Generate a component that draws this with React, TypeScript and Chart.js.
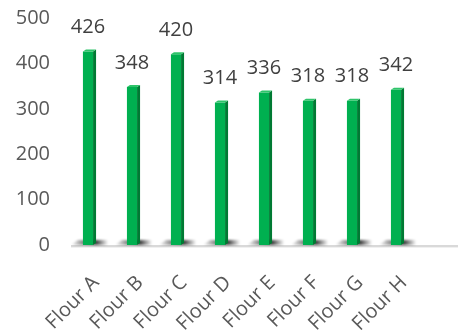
import React, { useEffect, useRef } from "react";
import { Chart, registerables } from "chart.js";

Chart.register(...registerables);

const categories = ["Flour A", "Flour B", "Flour C", "Flour D", "Flour E", "Flour F", "Flour G", "Flour H"];
const values = [426, 348, 420, 314, 336, 318, 318, 342];
const yMin = 0;
const yMax = 500;
const yStep = 100;

const FONT = "'Open Sans', 'Noto Sans', sans-serif";
const DEPTH_X = 3;
const DEPTH_Y = 2;

const bar3d = {
  id: "bar3d",
  beforeDatasetsDraw(chart: any) {
    const { ctx, chartArea } = chart;
    const base = chart.scales.y.getPixelForValue(0);
    ctx.save();
    // floor line
    ctx.fillStyle = "#d9d9d9";
    ctx.fillRect(chartArea.left + 5, base, chart.width - chartArea.left - 5, 2);
    ctx.fillStyle = "rgba(0,0,0,0.06)";
    ctx.fillRect(chartArea.left + 5, base + 2, chart.width - chartArea.left - 5, 1);
    // floor shadows
    const meta = chart.getDatasetMeta(0);
    meta.data.forEach((el: any) => {
      const { x, width } = el.getProps(["x", "width"], true);
      const l = x - width / 2 - 12;
      const r = x + width / 2 + 15;
      const g = ctx.createLinearGradient(l, 0, r, 0);
      const bl = (x - width / 2 - l) / (r - l);
      const br = (x + width / 2 + DEPTH_X - l) / (r - l);
      g.addColorStop(0, "rgba(0,0,0,0)");
      g.addColorStop(bl, "rgba(0,0,0,0.45)");
      g.addColorStop(br, "rgba(0,0,0,0.75)");
      g.addColorStop(1, "rgba(0,0,0,0)");
      ctx.filter = "blur(1px)";
      ctx.fillStyle = g;
      ctx.beginPath();
      ctx.moveTo(l, base);
      ctx.lineTo(r, base);
      ctx.lineTo(r + 3, base - 5);
      ctx.lineTo(l + 7, base - 5);
      ctx.closePath();
      ctx.fill();
    });
    ctx.restore();
  },
  afterDatasetsDraw(chart: any) {
    const { ctx } = chart;
    const meta = chart.getDatasetMeta(0);
    ctx.save();
    meta.data.forEach((el: any, i: number) => {
      const { x, y, base, width } = el.getProps(["x", "y", "base", "width"], true);
      const r = x + width / 2;
      const l = x - width / 2;
      // side face
      ctx.fillStyle = "#007a33";
      ctx.beginPath();
      ctx.moveTo(r, y);
      ctx.lineTo(r + DEPTH_X, y - DEPTH_Y);
      ctx.lineTo(r + DEPTH_X, base - DEPTH_Y);
      ctx.lineTo(r, base);
      ctx.closePath();
      ctx.fill();
      // top face
      ctx.fillStyle = "#2fc46a";
      ctx.beginPath();
      ctx.moveTo(l, y);
      ctx.lineTo(r, y);
      ctx.lineTo(r + DEPTH_X, y - DEPTH_Y);
      ctx.lineTo(l + DEPTH_X, y - DEPTH_Y);
      ctx.closePath();
      ctx.fill();
      // value label
      ctx.fillStyle = "#404040";
      ctx.font = `20px ${FONT}`;
      ctx.textAlign = "center";
      ctx.textBaseline = "bottom";
      ctx.fillText(String(values[i]), x, y - 14);
    });
    ctx.restore();
  },
};

export default function App() {
  const ref = useRef<HTMLCanvasElement | null>(null);
  useEffect(() => {
    document.body.style.margin = "0";
    if (!ref.current) return;
    const chart = new Chart(ref.current, {
      type: "bar",
      data: {
        labels: categories,
        datasets: [
          {
            data: values,
            backgroundColor: "#00b050",
            borderWidth: 0,
            barPercentage: 0.46,
            categoryPercentage: 0.5,
          },
        ],
      },
      options: {
        responsive: false,
        animation: false,
        layout: { padding: { top: 18, right: 40, left: 0, bottom: 0 } },
        plugins: { legend: { display: false }, tooltip: { enabled: false } },
        scales: {
          x: {
            grid: { display: false, drawTicks: false },
            border: { display: false },
            ticks: {
              color: "#595959",
              font: { family: FONT, size: 20 },
              maxRotation: 45,
              minRotation: 45,
              padding: 26,
              labelOffset: 8,
            },
            afterFit(scale: any) {
              scale.height = 86;
              scale.paddingLeft = 0;
              scale.paddingRight = 0;
            },
          },
          y: {
            min: yMin,
            max: yMax,
            grid: { display: false, drawTicks: false },
            border: { display: false },
            ticks: {
              stepSize: yStep,
              color: "#595959",
              font: { family: FONT, size: 20 },
              padding: 16,
            },
            afterFit(scale: any) {
              scale.width = 66;
              scale.paddingTop = 10;
              scale.paddingBottom = 0;
            },
          },
        },
      },
      plugins: [bar3d],
    });
    return () => chart.destroy();
  }, []);
  return (
    <div style={{ width: 458, height: 331 }}>
      <canvas ref={ref} width={458} height={331} />
    </div>
  );
}
